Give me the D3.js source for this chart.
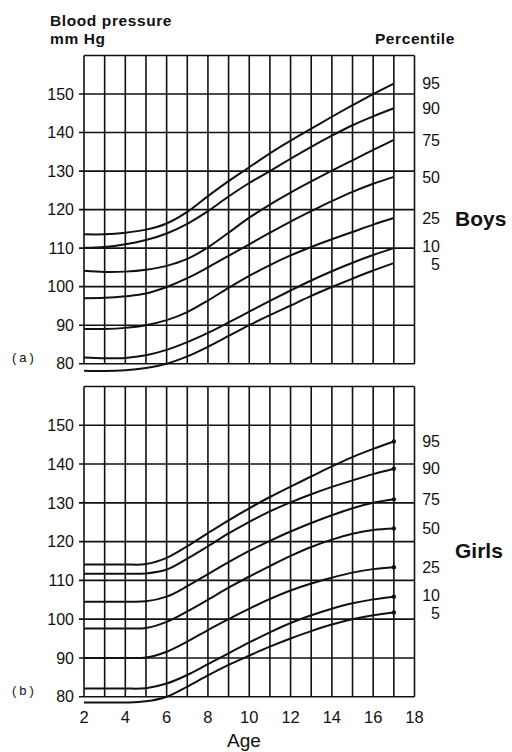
<!DOCTYPE html>
<html><head><meta charset="utf-8">
<script src="https://cdn.jsdelivr.net/npm/d3@7"></script>
<style>
body{margin:0;background:#fff}
svg{display:block}
text{font-family:"Liberation Sans",Arial,Helvetica,sans-serif;fill:#111}
</style>
</head><body>
<svg id="c" width="512" height="752"></svg>
<script>
// ---- data ----
const ages = [2,3,4,5,6,7,8,9,10,11,12,13,14,15,16,17];
const percentiles = ["95","90","75","50","25","10","5"];
const yTicks = [80,90,100,110,120,130,140,150];
const xTicks = [2,4,6,8,10,12,14,16,18];

const boys95 = [113.6,113.6,114.0,114.8,116.4,119.4,123.5,127.4,131.0,134.6,137.9,141.0,144.1,147.1,150.0,152.7];
const boys90 = [110.1,110.3,111.0,112.1,113.8,116.3,119.6,123.4,126.9,130.0,133.2,136.3,139.2,141.9,144.2,146.3];
const boys75 = [104.1,103.8,103.9,104.4,105.4,107.2,110.2,114.0,117.9,121.3,124.4,127.3,130.1,132.8,135.5,138.1];
const boys50 = [97.0,97.1,97.5,98.2,99.9,102.2,105.0,108.0,111.0,114.0,116.9,119.6,122.2,124.6,126.7,128.5];
const boys25 = [89.0,89.0,89.3,90.0,91.3,93.4,96.4,99.7,102.8,105.6,108.1,110.3,112.3,114.2,116.1,117.8];
const boys10 = [81.6,81.4,81.5,82.2,83.6,85.6,88.0,90.7,93.5,96.3,99.0,101.6,104.0,106.2,108.2,110.0];
const boys5  = [78.2,78.1,78.3,78.9,80.0,81.9,84.4,87.2,90.0,92.6,95.1,97.6,99.9,102.1,104.2,106.1];

const girls95 = [114.1,114.1,114.1,114.2,115.8,118.8,122.2,125.5,128.6,131.5,134.2,136.8,139.4,141.8,143.9,145.8];
const girls90 = [111.7,111.7,111.7,111.8,112.8,115.6,118.8,122.1,125.1,127.8,130.1,132.2,134.1,135.8,137.4,138.8];
const girls75 = [104.5,104.5,104.5,104.6,105.8,108.5,111.6,114.7,117.6,120.2,122.6,124.8,126.8,128.6,130.0,130.9];
const girls50 = [97.6,97.6,97.6,97.7,99.3,102.0,105.0,108.1,111.0,113.7,116.3,118.6,120.5,122.0,123.0,123.4];
const girls25 = [90.0,90.0,90.0,90.1,91.6,94.2,97.2,100.0,102.7,105.2,107.4,109.2,110.7,112.0,112.9,113.4];
const girls10 = [82.1,82.1,82.1,82.2,83.4,85.6,88.4,91.2,94.0,96.6,99.0,101.0,102.7,104.1,105.1,105.8];
const girls5  = [78.5,78.5,78.5,78.8,80.0,82.6,85.5,88.2,90.6,92.9,95.0,96.9,98.6,100.0,101.0,101.7];

const boysSeries  = [boys95,boys90,boys75,boys50,boys25,boys10,boys5];
const girlsSeries = [girls95,girls90,girls75,girls50,girls25,girls10,girls5];

// ---- drawing ----
const svg = d3.select("#c");
const x = d3.scaleLinear().domain([2,18]).range([84,414.5]);

function panel(yRange, series, name, tag, endDots){
  const y = d3.scaleLinear().domain([80,160]).range(yRange);
  const g = svg.append("g");
  g.selectAll("line.v").data(d3.range(2,19)).join("line")
    .attr("x1",d=>x(d)).attr("x2",d=>x(d))
    .attr("y1",y(80)).attr("y2",y(160))
    .attr("stroke","#111").attr("stroke-width",1.6);
  g.selectAll("line.h").data(yTicks.concat([160])).join("line")
    .attr("x1",d=>d===160?x(2):x(2)-5).attr("x2",x(18))
    .attr("y1",d=>y(d)).attr("y2",d=>y(d))
    .attr("stroke","#111").attr("stroke-width",1.6);
  g.selectAll("text.yl").data(yTicks).join("text")
    .attr("x",74).attr("y",d=>y(d)).attr("dy","0.36em")
    .attr("text-anchor","end").attr("font-size",16).text(d=>d);
  const line = d3.line().x((d,i)=>x(ages[i])).y(d=>y(d)).curve(d3.curveCatmullRom.alpha(0.5));
  g.selectAll("path.c").data(series).join("path")
    .attr("d",line).attr("fill","none")
    .attr("stroke","#111").attr("stroke-width",2);
  if(endDots){
    g.selectAll("circle.e").data(series).join("circle")
      .attr("cx",x(ages[ages.length-1])).attr("cy",d=>y(d[d.length-1]))
      .attr("r",2.2).attr("fill","#111");
  }
  const ly = series.map(s=>y(s[s.length-1]));
  const minGap = 18;
  for(let k=0;k<3;k++){
    for(let i=1;i<ly.length;i++){
      const gap = ly[i]-ly[i-1];
      if(gap<minGap){const d=(minGap-gap)/2; ly[i]+=d; ly[i-1]-=d;}
    }
  }
  g.selectAll("text.pl").data(percentiles).join("text")
    .attr("x",440).attr("y",(d,i)=>ly[i]).attr("dy","0.36em")
    .attr("text-anchor","end").attr("font-size",16).text(d=>d);
  g.append("text").attr("x",455).attr("y",y(117.8)).attr("dy","0.36em")
    .attr("font-size",21).attr("font-weight","bold").text(name);
  g.append("text").attr("x",12).attr("y",y(80)).attr("dy","-0.1em")
    .attr("font-size",13).attr("letter-spacing",3).text(tag);
  return y;
}

panel([363.7,55.5], boysSeries, "Boys", "(a)", false);
panel([696.7,386.5], girlsSeries, "Girls", "(b)", true);

svg.append("text").attr("x",50).attr("y",26).attr("font-size",15.5).attr("font-weight","bold")
  .attr("letter-spacing",0.6).text("Blood pressure");
svg.append("text").attr("x",50).attr("y",44).attr("font-size",15.5).attr("font-weight","bold")
  .attr("letter-spacing",0.6).text("mm Hg");
svg.append("text").attr("x",455).attr("y",44).attr("font-size",15.5).attr("font-weight","bold")
  .attr("letter-spacing",0.6).attr("text-anchor","end").text("Percentile");

svg.selectAll("text.xl").data(xTicks).join("text")
  .attr("x",d=>x(d)).attr("y",723).attr("text-anchor","middle")
  .attr("font-size",16.5).text(d=>d);
svg.append("text").attr("x",244).attr("y",747).attr("text-anchor","middle")
  .attr("font-size",19).text("Age");
</script>
</body></html>
